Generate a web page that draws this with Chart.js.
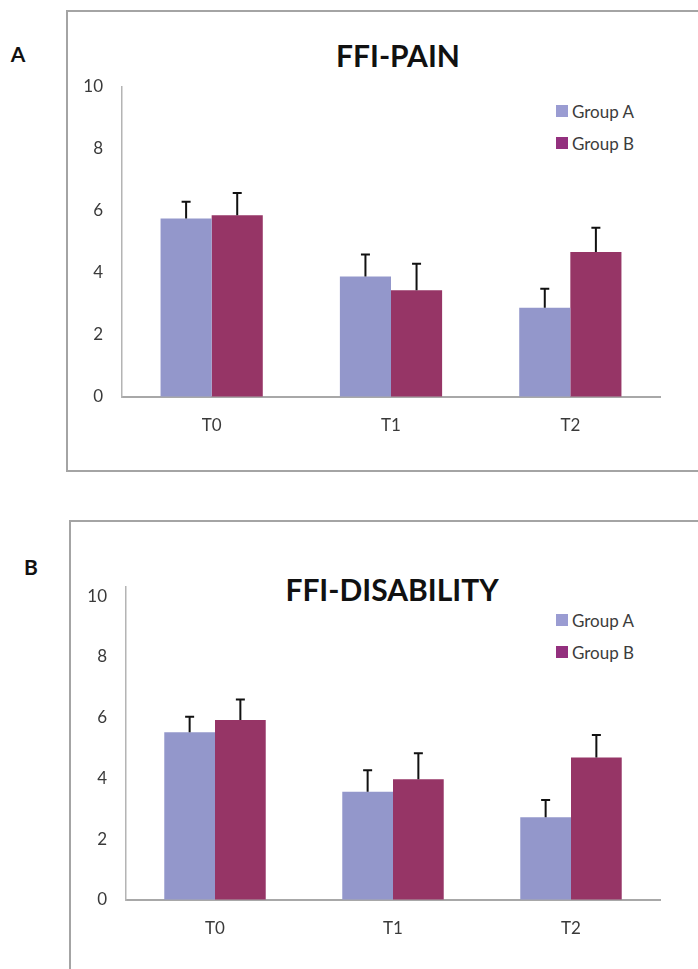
<!DOCTYPE html>
<html>
<head>
<meta charset="utf-8">
<script src="https://cdn.jsdelivr.net/npm/chart.js@4.4.1/dist/chart.umd.min.js"></script>
<style>
  html, body { margin: 0; padding: 0; background: #fff; }
  body { width: 698px; height: 969px; position: relative; overflow: hidden; font-family: Lato, "Open Sans", sans-serif; }
  .box { position: absolute; border: 2px solid #a4a4a4; box-sizing: border-box; }
  .lbl { position: absolute; transform: translate(-50%, -50%); font-weight: bold; color: #111; white-space: nowrap; line-height: 1; }
  .panel-letter { font-size: 21px; }
  .title { font-size: 30px; }
  canvas { position: absolute; left: 0; }
  .legend { position: absolute; left: 556px; font-size: 17px; color: #3c3c3c; }
  .legend div { display: flex; align-items: center; height: 32px; }
  .legend span.sw { width: 12px; height: 12px; margin-right: 4px; display: inline-block; }
</style>
</head>
<body>
<div class="box" style="left:66px; top:10px; width:700px; height:462px;"></div>
<div class="box" style="left:69px; top:520px; width:700px; height:520px;"></div>

<div class="lbl panel-letter" style="left:18px; top:53px;">A</div>
<div class="lbl panel-letter" style="left:31px; top:566px;">B</div>
<div class="lbl title" style="left:398px; top:55px;">FFI-PAIN</div>
<div class="lbl title" style="left:392px; top:589px;">FFI-DISABILITY</div>

<div class="legend" id="legendA" style="top:95px;"></div>
<div class="legend" id="legendB" style="top:604px;"></div>

<canvas id="chartA" width="698" height="480" style="top:0px;"></canvas>
<canvas id="chartB" width="698" height="479" style="top:490px;"></canvas>

<script>
const categories = ['T0', 'T1', 'T2'];
const groupNames = ['Group A', 'Group B'];
const groupColors = ['#9397cb', '#963566'];
const legendColors = ['#9a9cd2', '#93307e'];
const yTicks = [0, 2, 4, 6, 8, 10];

// FFI-PAIN
const painA = [5.76, 3.89, 2.88];
const painAErr = [0.54, 0.71, 0.61];
const painB = [5.86, 3.44, 4.68];
const painBErr = [0.72, 0.86, 0.78];

// FFI-DISABILITY
const disA = [5.52, 3.56, 2.72];
const disAErr = [0.51, 0.71, 0.57];
const disB = [5.92, 3.97, 4.69];
const disBErr = [0.68, 0.86, 0.74];

Chart.defaults.font.family = 'Lato, "Open Sans", sans-serif';
Chart.defaults.color = '#3a3a3a';

const errorBars = {
  id: 'errorBars',
  afterDatasetsDraw(chart) {
    const ctx = chart.ctx;
    const y = chart.scales.y;
    ctx.save();
    ctx.strokeStyle = '#111';
    ctx.lineWidth = 2;
    chart.data.datasets.forEach((ds, i) => {
      chart.getDatasetMeta(i).data.forEach((bar, j) => {
        const top = y.getPixelForValue(ds.data[j] + ds.errors[j]);
        ctx.beginPath();
        ctx.moveTo(bar.x, bar.y);
        ctx.lineTo(bar.x, top);
        ctx.moveTo(bar.x - 4.5, top);
        ctx.lineTo(bar.x + 4.5, top);
        ctx.stroke();
      });
    });
    ctx.restore();
  }
};

function buildLegend(id) {
  const el = document.getElementById(id);
  groupNames.forEach((name, i) => {
    const row = document.createElement('div');
    row.innerHTML = `<span class="sw" style="background:${legendColors[i]}"></span>${name}`;
    el.appendChild(row);
  });
}

function makeChart(id, seriesA, errA, seriesB, errB, yMax, pad) {
  return new Chart(document.getElementById(id), {
    type: 'bar',
    data: {
      labels: categories,
      datasets: [
        { label: groupNames[0], data: seriesA, errors: errA, backgroundColor: groupColors[0] },
        { label: groupNames[1], data: seriesB, errors: errB, backgroundColor: groupColors[1] }
      ]
    },
    options: {
      responsive: false,
      animation: false,
      categoryPercentage: 0.57,
      barPercentage: 1.0,
      layout: { padding: pad },
      plugins: { legend: { display: false }, tooltip: { enabled: false } },
      scales: {
        x: {
          grid: { drawOnChartArea: false, drawTicks: false },
          border: { color: '#a8a8a8', width: 2 },
          ticks: { padding: 18, font: { size: 17 } },
          afterFit: s => { s.height = 40; }
        },
        y: {
          min: 0,
          max: yMax,
          grid: { drawOnChartArea: false, drawTicks: false },
          border: { color: '#b4b4b4', width: 1.5 },
          ticks: { padding: 19, font: { size: 17 } },
          afterBuildTicks: s => { s.ticks = yTicks.map(v => ({ value: v })); },
          afterFit: s => { s.width = 40; }
        }
      }
    },
    plugins: [errorBars]
  });
}

buildLegend('legendA');
buildLegend('legendB');
makeChart('chartA', painA, painAErr, painB, painBErr, 10, { left: 82, right: 38, top: 87, bottom: 43 });
makeChart('chartB', disA, disAErr, disB, disBErr, 10.3, { left: 86, right: 38, top: 97, bottom: 29 });
</script>
</body>
</html>
